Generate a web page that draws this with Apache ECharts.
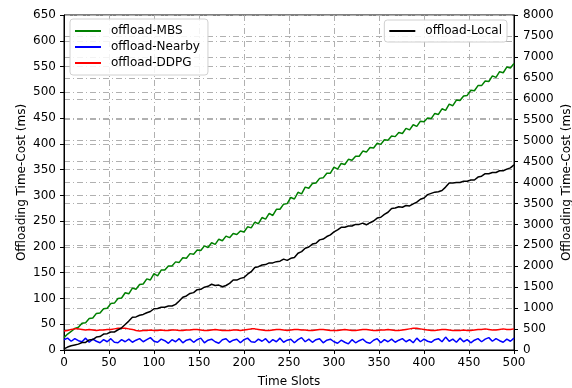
<!DOCTYPE html>
<html><head><meta charset="utf-8">
<script src="https://cdn.jsdelivr.net/npm/echarts@6/dist/echarts.min.js"></script>
<style>html,body{margin:0;padding:0;background:#fff}#c{width:572px;height:388px}</style>
</head><body><div id="c"></div>
<script>
const slots = [0,4,8,12,16,20,
24,28,32,36,40,44,48,52,56,60,
64,68,72,76,80,84,88,92,96,100,
104,108,112,116,120,124,128,132,136,140,
144,148,152,156,160,164,168,172,176,180,
184,188,192,196,200,204,208,212,216,220,
224,228,232,236,240,244,248,252,256,260,
264,268,272,276,280,284,288,292,296,300,
304,308,312,316,320,324,328,332,336,340,
344,348,352,356,360,364,368,372,376,380,
384,388,392,396,400,404,408,412,416,420,
424,428,432,436,440,444,448,452,456,460,
464,468,472,476,480,484,488,492,496,500];
const mbs = [24,31,36,42,44,52,
53,61,62,71,72,80,81,90,91,100,
101,111,109,120,118,127,128,138,136,148,
144,155,155,163,163,171,170,179,178,187,
186,194,193,202,199,208,205,215,212,221,
218,226,224,231,229,239,237,248,245,257,
254,265,261,273,273,283,284,296,293,306,
303,316,314,323,324,333,334,343,343,355,
351,362,360,370,368,376,376,386,384,393,
392,401,399,408,407,415,414,422,420,430,
427,437,434,444,443,450,449,459,457,468,
465,477,474,485,484,493,494,504,503,513,
513,522,521,532,529,540,538,549,547,556];
const nearby = [20,23,17,22,18,16,
23,15,21,17,14,20,16,22,15,14,
20,16,21,15,19,22,16,20,24,17,
15,21,18,13,20,16,22,14,19,21,
15,20,23,14,19,21,16,13,20,22,
15,19,21,14,20,23,16,15,21,17,
22,14,20,16,23,15,19,21,14,20,
24,16,21,15,20,22,14,19,21,16,
13,19,15,12,20,14,18,21,15,13,
19,22,14,20,16,21,15,19,22,16,
20,14,23,16,21,17,15,20,22,16,
25,17,21,15,23,16,20,14,19,22,
16,21,24,17,22,18,15,21,17,23];
const ddpg = [37,38,40,41,41,40,
39,40,39,38,39,39,40,40,41,42,
42,42,41,40,38,37,38,38,39,38,
38,39,38,38,39,39,38,38,39,39,
40,40,39,38,38,39,40,39,38,38,
38,39,39,38,39,40,41,41,40,39,
38,38,39,40,40,39,38,39,40,40,
39,39,38,38,39,40,40,39,38,38,
38,39,40,39,38,38,39,40,40,39,
38,38,39,39,40,39,38,38,39,40,
41,42,42,41,40,39,38,38,39,40,
40,39,38,38,38,39,38,38,39,40,
40,41,40,39,39,40,41,40,40,41];
const local = [25,70,100,120,140,180,
180,240,250,310,320,380,390,430,430,480,
530,610,690,780,790,830,850,890,920,985,
990,1020,1020,1050,1050,1090,1170,1260,1290,1350,
1370,1440,1450,1500,1520,1570,1540,1550,1510,1540,
1590,1670,1670,1710,1730,1810,1870,1970,1990,2030,
2040,2080,2080,2110,2120,2170,2140,2190,2210,2310,
2350,2430,2460,2530,2550,2630,2650,2710,2750,2820,
2870,2930,2930,2960,2960,3000,3000,3030,2990,3040,
3080,3150,3170,3240,3290,3380,3390,3420,3410,3450,
3440,3490,3530,3600,3630,3710,3740,3770,3780,3810,
3890,3990,3990,4000,4000,4030,4030,4060,4060,4130,
4150,4210,4210,4240,4240,4280,4280,4320,4350,4420];

const pairs = a => slots.map((x,i)=>[x,a[i]]);
const font = 'DejaVu Sans';
const gridLine = {show:true, lineStyle:{color:'#b0b0b0', width:1, type:[6,3,1,3]}};
const chart = echarts.init(document.getElementById('c'), null, {renderer:'canvas'});
const mkSeries = (name, data, color, yi) => ({
  name, type:'line', data:pairs(data), yAxisIndex:yi, symbol:'none',
  lineStyle:{color, width:1.5}, itemStyle:{color}, animation:false
});
const txt = {fontFamily:font, fontSize:12, color:'#000'};
const legTxt = {fontFamily:font, fontSize:12, color:'#000', padding:[0,0,0,5]};
chart.setOption({
  animation:false,
  grid:{left:64, right:58, top:15, bottom:38, containLabel:false, outerBoundsMode:'none',
        show:true, borderColor:'#000', borderWidth:1, backgroundColor:'transparent'},
  legend:[
    {data:['offload-MBS','offload-Nearby','offload-DDPG'], orient:'vertical', left:70, top:19,
     icon:'rect', itemWidth:26, itemHeight:2, itemGap:4,
     padding:[6,8,6,5], borderColor:'#d0d0d0', borderWidth:1, borderRadius:3, backgroundColor:'rgba(255,255,255,0.85)',
     textStyle:legTxt},
    {data:['offload-Local'], orient:'vertical', right:65, top:20,
     icon:'rect', itemWidth:26, itemHeight:2,
     padding:[5,5,5,5], borderColor:'#d0d0d0', borderWidth:1, borderRadius:3, backgroundColor:'rgba(255,255,255,0.85)',
     textStyle:legTxt}
  ],
  xAxis:{type:'value', min:0, max:500, interval:50, name:'Time Slots', nameLocation:'middle', nameGap:26,
    nameMoveOverlap:false,
    nameTextStyle:txt,
    axisLine:{show:true, onZero:false, lineStyle:{color:'#000'}},
    axisTick:{show:true, length:4, lineStyle:{color:'#000'}},
    axisLabel:Object.assign({margin:7}, txt),
    splitLine:gridLine},
  yAxis:[
    {type:'value', min:0, max:650, interval:50, name:'Offloading Time-Cost (ms)', nameLocation:'middle', nameGap:36,
     nameMoveOverlap:false,
     nameTextStyle:txt,
     axisLine:{show:true, lineStyle:{color:'#000'}},
     axisTick:{show:true, length:4, lineStyle:{color:'#000'}},
     axisLabel:Object.assign({margin:8}, txt),
     splitLine:gridLine},
    {type:'value', min:0, max:8000, interval:500, position:'right', name:'Offloading Time-Cost (ms)', nameLocation:'middle', nameGap:47,
     nameRotate:90, nameMoveOverlap:false,
     nameTextStyle:txt,
     axisLine:{show:true, lineStyle:{color:'#000'}},
     axisTick:{show:true, length:4, lineStyle:{color:'#000'}},
     axisLabel:Object.assign({margin:9, formatter:v=>String(v)}, txt),
     splitLine:gridLine}
  ],
  series:[
    mkSeries('offload-MBS', mbs, '#008000', 0),
    mkSeries('offload-Nearby', nearby, '#0000ff', 0),
    mkSeries('offload-DDPG', ddpg, '#ff0000', 0),
    mkSeries('offload-Local', local, '#000000', 1)
  ]
});
</script></body></html>
